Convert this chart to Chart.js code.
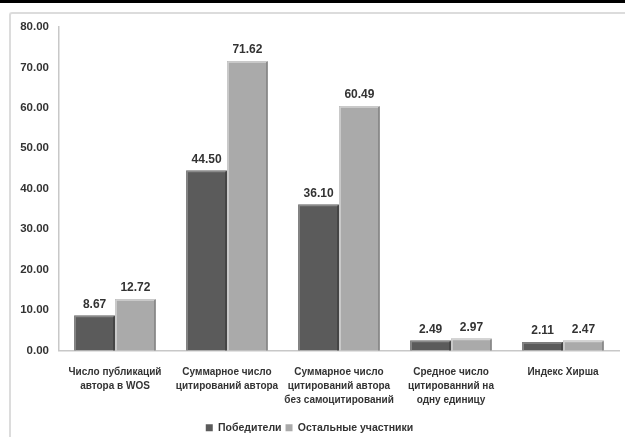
<!DOCTYPE html>
<html>
<head>
<meta charset="utf-8">
<script src="https://cdn.jsdelivr.net/npm/chart.js@4.4.1/dist/chart.umd.min.js"></script>
<style>
  html, body { margin: 0; padding: 0; background: #fff; }
  body { width: 625px; height: 437px; position: relative; overflow: hidden; }
  #topbar { position: absolute; left: 0; top: 0; width: 625px; height: 3px; background: #000; }
  #frame { position: absolute; left: 9px; top: 12px; width: 620px; height: 430px;
           border-left: 2px solid #dcdcdc; border-top: 2px solid #dcdcdc; border-top-left-radius: 3px; }
  #wrap { position: absolute; left: 0; top: 0; width: 625px; height: 437px; }
</style>
</head>
<body>
<div id="topbar"></div>
<div id="frame"></div>
<div id="wrap"><canvas id="chart"></canvas></div>
<script>
// Категории и значения
const categories = [
  ["Число публикаций", "автора в WOS"],
  ["Суммарное число", "цитирований автора"],
  ["Суммарное число", "цитирований автора", "без самоцитирований"],
  ["Средное число", "цитированний на", "одну единицу"],
  ["Индекс Хирша"]
];
const winners = [8.67, 44.50, 36.10, 2.49, 2.11];
const others = [12.72, 71.62, 60.49, 2.97, 2.47];
const seriesNames = ["Победители", "Остальные участники"];
const textColor = "#333";

// Подписи значений над столбцами
const valueLabels = {
  id: "valueLabels",
  afterDatasetsDraw(chart) {
    const ctx = chart.ctx;
    ctx.save();
    ctx.font = "bold 12px 'Liberation Sans', Arial, sans-serif";
    ctx.fillStyle = textColor;
    ctx.textAlign = "center";
    ctx.textBaseline = "bottom";
    chart.data.datasets.forEach((ds, i) => {
      chart.getDatasetMeta(i).data.forEach((bar, j) => {
        ctx.fillText(ds.data[j].toFixed(2), bar.x, bar.y - 5);
      });
    });
    ctx.restore();
  }
};

// Лёгкий объём у столбцов
const bevel = {
  id: "bevel",
  afterDatasetsDraw(chart) {
    const ctx = chart.ctx;
    ctx.save();
    chart.data.datasets.forEach((ds, i) => {
      chart.getDatasetMeta(i).data.forEach((bar) => {
        const { x, y, base, width } = bar.getProps(["x", "y", "base", "width"], true);
        const l = x - width / 2, r = x + width / 2;
        ctx.lineWidth = 1.5;
        ctx.strokeStyle = i === 0 ? "rgba(150,150,150,0.8)" : "rgba(215,215,215,0.9)";
        ctx.beginPath();
        ctx.moveTo(l + 1, base);
        ctx.lineTo(l + 1, y + 1);
        ctx.lineTo(r - 1, y + 1);
        ctx.stroke();
        ctx.strokeStyle = i === 0 ? "rgba(60,60,60,0.9)" : "rgba(130,130,130,0.9)";
        ctx.beginPath();
        ctx.moveTo(r - 1, y + 1);
        ctx.lineTo(r - 1, base);
        ctx.stroke();
      });
    });
    ctx.restore();
  }
};

new Chart(document.getElementById("chart"), {
  type: "bar",
  data: {
    labels: categories,
    datasets: [
      { label: seriesNames[0], data: winners, backgroundColor: "#5b5b5b", borderWidth: 0 },
      { label: seriesNames[1], data: others, backgroundColor: "#aaaaaa", borderWidth: 0 }
    ]
  },
  options: {
    responsive: true,
    maintainAspectRatio: false,
    animation: false,
    datasets: { bar: { categoryPercentage: 0.73, barPercentage: 1.0 } },
    layout: { padding: { left: 0, right: 6, top: 27, bottom: -6 } },
    plugins: {
      tooltip: { enabled: false },
      legend: {
        display: true,
        position: "bottom",
        labels: {
          color: textColor,
          boxWidth: 7,
          boxHeight: 7,
          padding: 4,
          font: { family: "'Liberation Sans', Arial, sans-serif", size: 10.5, weight: "bold" }
        }
      }
    },
    scales: {
      x: {
        grid: { display: false, drawTicks: false },
        border: { display: true, color: "#c8c8c8", width: 1.5 },
        ticks: {
          color: textColor,
          padding: 15,
          maxRotation: 0,
          autoSkip: false,
          font: { family: "'Liberation Sans', Arial, sans-serif", size: 10, weight: "bold", lineHeight: 1.4 }
        },
        afterFit: (s) => { s.height = 68; }
      },
      y: {
        min: 0,
        max: 80,
        grid: { display: false, drawTicks: false },
        border: { display: true, color: "#c8c8c8", width: 1.5 },
        ticks: {
          stepSize: 10,
          color: textColor,
          padding: 10,
          font: { family: "'Liberation Sans', Arial, sans-serif", size: 11.5, weight: "bold" },
          callback: (v) => v.toFixed(2)
        },
        afterFit: (s) => { s.width = 59; }
      }
    }
  },
  plugins: [bevel, valueLabels]
});
</script>
</body>
</html>
